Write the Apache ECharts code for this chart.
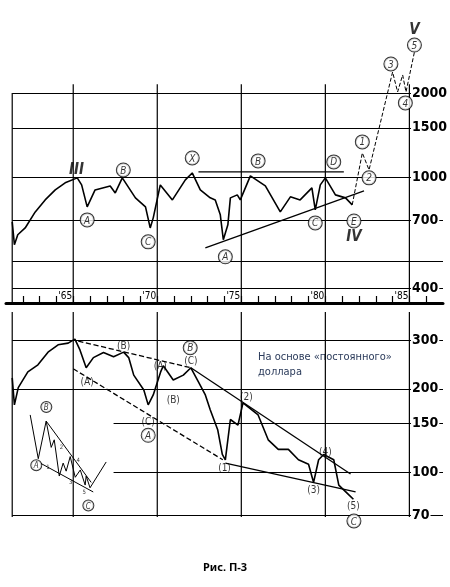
<!DOCTYPE html>
<html>
<head>
<meta charset="utf-8">
<script src="https://cdn.jsdelivr.net/npm/echarts@6/dist/echarts.min.js"></script>
<style>
  html, body { margin: 0; padding: 0; background: #fff; }
  #chart { width: 450px; height: 587px; }
</style>
</head>
<body>
<div id="chart"></div>
<script>
// ---- top panel: Dow Jones (nominal) ----
var topYears = [1961.37, 1961.5, 1961.7, 1962.14, 1962.74, 1963.33, 1963.93, 1964.52, 1965.24, 1965.5, 1965.83,
  1966.3, 1967.2, 1967.5, 1967.92, 1968.7, 1969.3, 1969.58, 1969.76, 1970.18, 1970.9, 1971.67, 1972.08,
  1972.56, 1973.15, 1973.45, 1973.75, 1973.93, 1974.2, 1974.35, 1974.76, 1974.94, 1975.54, 1976.43,
  1977.32, 1977.92, 1978.5, 1979.2, 1979.4, 1979.7, 1980.0, 1980.6, 1981.2, 1981.6];
var topValues = [690, 571, 620, 656, 749, 827, 898, 952, 992, 936, 781,
  898, 928, 876, 992, 841, 781, 656, 713, 936, 827, 976, 1033,
  898, 841, 827, 731, 595, 673, 841, 862, 827, 1008, 928,
  749, 848, 827, 913, 762, 936, 992, 862, 841, 794];
// projected wave V (dashed)
var projYears = [1981.6, 1982.2, 1982.6, 1984.0, 1984.3, 1984.6, 1984.8, 1985.3];
var projValues = [794, 1219, 1059, 2377, 2016, 2320, 2016, 2804];
// triangle boundaries
var triTop = [[1972.45, 1042], [1981.1, 1042]];
var triBottom = [[1972.86, 556], [1982.3, 891]];
var topTicks = [2000, 1500, 1000, 700, 400];
var topPlainLines = [500];
var topNoteX = [1965.2, 1967.98, 1965.83, 1969.46, 1972.08, 1976.0, 1974.05, 1979.4, 1980.5, 1981.7, 1981.7, 1982.2, 1982.6, 1983.9, 1984.76, 1985.3, 1985.3];
var topNoteY = [1059, 1059, 701, 585, 1169, 1141, 517, 684, 1132, 695, 610, 1335, 992, 2540, 1842, 2970, 3365];
var topNoteText = ['III', 'B', 'A', 'C', 'X', 'B', 'A', 'C', 'D', 'E', 'IV', '1', '2', '3', '4', '5', 'V'];

// ---- bottom panel: constant dollar ----
var botYears = [1961.37, 1961.5, 1961.73, 1962.0, 1962.3, 1962.9, 1963.5, 1964.1, 1964.7, 1965.1, 1965.4, 1965.77,
  1966.2, 1966.8, 1967.4, 1968.0, 1968.3, 1968.6, 1969.2, 1969.46, 1969.76, 1970.2, 1970.36, 1970.95,
  1971.55, 1972.0, 1972.44, 1972.86, 1973.15, 1973.6, 1973.87, 1974.05, 1974.35, 1974.8, 1975.1,
  1976.0, 1976.6, 1977.2, 1977.8, 1978.4, 1979.0, 1979.3, 1979.6, 1979.9, 1980.5, 1980.8, 1981.4, 1981.67];
var botValues = [219, 175, 202, 215, 230, 244, 271, 288, 292, 302, 276, 238,
  259, 270, 261, 271, 259, 224, 198, 175, 190, 230, 242, 215,
  224, 238, 212, 190, 168, 142, 116, 111, 155, 148, 178,
  161, 131, 121, 121, 111, 107, 92, 111, 116, 111, 90, 83, 80];
var botDashed = [[[1965.3, 297], [1972.0, 238]], [[1965.0, 236], [1973.9, 111]]];
var botSolid = [[[1972.0, 238], [1981.5, 98.6]], [[1974.05, 108], [1981.8, 85]]];
var botTicks = [300, 200, 150, 100, 70];
var botNoteX = [1968.0, 1965.83, 1971.96, 1972.0, 1970.18, 1970.95, 1969.46, 1969.46, 1975.3, 1974.0, 1979.3, 1980.0, 1981.67, 1981.7];
var botNoteY = [285, 210, 281, 250, 240, 182, 151, 136, 186, 103, 86, 118, 75.3, 66.8];
var botNoteText = ['(B)', '(A)', 'B', '(C)', '(A)', '(B)', '(C)', 'A', '(2)', '(1)', '(3)', '(4)', '(5)', 'C'];
// inset schematic
var insetYears = [1962.44, 1962.92, 1963.39, 1963.69, 1963.87, 1964.17, 1964.4, 1964.58, 1964.82, 1965.12, 1965.42, 1965.71, 1965.77, 1966.0, 1966.96];
var insetValues = [161, 112, 153, 123, 131, 97, 108, 101, 114, 96, 102, 90, 97, 88, 109];
var insetChannel = [[[1963.39, 153], [1966.07, 92]], [[1963.04, 108], [1966.19, 85]]];
var insetNoteX = [1963.4, 1962.8, 1965.9, 1963.5, 1964.3, 1964.85, 1965.3, 1965.65];
var insetNoteY = [172, 106, 76, 104, 123, 92, 110, 85];
var insetNoteText = ['B', 'A', 'C', '1', '2', '3', '4', '5'];

var vYears = [1965, 1970, 1975, 1980];
var xMin = 1961, xMax = 1987, xLeft = 1961.37;
var FONT = 'DejaVu Sans Condensed';

function pairs(xs, ys) { return xs.map(function (x, i) { return [x, ys[i]]; }); }
function segLine(seg, gi, dashed, w) {
  return { type: 'line', xAxisIndex: gi, yAxisIndex: gi, data: seg, symbol: 'none', silent: true,
    lineStyle: { color: '#000', width: w || 1.3, type: dashed ? 'dashed' : 'solid' } };
}
function notes(xs, ys, texts, gi, size) {
  return { type: 'scatter', xAxisIndex: gi, yAxisIndex: gi, symbolSize: 0, silent: true, z: 10,
    data: xs.map(function (x, i) { return { value: [x, ys[i]], name: texts[i] }; }),
    label: { show: true, position: 'inside', formatter: function (p) {
        var t = p.name;
        if (/^(I|V|X)+$/.test(t) && t !== 'X') return '{r|' + t + '}';
        if (t.charAt(0) === '(' || (size && /^[0-9]$/.test(t))) return '{p|' + t + '}';
        return '{c|' + t + '}';
      },
      rich: {
        r: { fontFamily: FONT, fontSize: 15, fontWeight: 'bold', fontStyle: 'italic', color: '#000' },
        p: { fontFamily: FONT, fontSize: size ? 6 : 10, color: '#000' },
        c: { fontFamily: FONT, fontSize: size || 10, fontStyle: 'italic', color: '#000', backgroundColor: '#fff',
             borderColor: '#000', borderWidth: 1, borderRadius: 9, width: size ? 8 : 11, height: size ? 8 : 11, align: 'center', padding: [2, 1, 0, 1] }
      } } };
}
function tickLines(ticks, gi, startX) {
  return { type: 'line', xAxisIndex: gi, yAxisIndex: gi, data: [], silent: true,
    markLine: { symbol: 'none', silent: true, animation: false,
      lineStyle: { color: '#000', width: 1.2, type: 'solid' },
      label: { show: true, position: 'end', distance: -32, formatter: function (p) { return p.value; },
        fontFamily: FONT, fontWeight: 'bold', fontSize: 14, color: '#000', backgroundColor: '#fff', padding: [0, 1] },
      data: ticks.map(function (t, i) {
        return [{ coord: [startX[i], t] }, { coord: [xMax, t], value: t }];
      }) } };
}
function vLines(years, lo, hi, gi, w) {
  return years.map(function (y) { return segLine([[y, lo], [y, hi]], gi, false, w || 1.2); });
}

var chart = echarts.init(document.getElementById('chart'));
var series = [
  { type: 'line', data: pairs(topYears, topValues), symbol: 'none', lineStyle: { color: '#000', width: 1.6 } },
  segLine(pairs(projYears, projValues), 0, true, 1),
  segLine(triTop, 0), segLine(triBottom, 0),
  tickLines(topTicks, 0, topTicks.map(function () { return xLeft; })),
  { type: 'line', data: [], markLine: { symbol: 'none', silent: true, label: { show: false },
      lineStyle: { color: '#000', width: 1.2, type: 'solid' },
      data: topPlainLines.map(function (v) { return [{ coord: [xLeft, v] }, { coord: [xMax, v] }]; }) } },
  notes(topNoteX, topNoteY, topNoteText, 0),
  { type: 'line', xAxisIndex: 1, yAxisIndex: 1, data: pairs(botYears, botValues), symbol: 'none', lineStyle: { color: '#000', width: 1.6 } },
  segLine(botDashed[0], 1, true), segLine(botDashed[1], 1, true),
  segLine(botSolid[0], 1), segLine(botSolid[1], 1),
  tickLines(botTicks, 1, [xLeft, xLeft, 1967.4, 1967.4, xLeft]),
  notes(botNoteX, botNoteY, botNoteText, 1),
  segLine(pairs(insetYears, insetValues), 1, false, 1),
  segLine(insetChannel[0], 1, false, 1), segLine(insetChannel[1], 1, false, 1),
  notes(insetNoteX, insetNoteY, insetNoteText, 1, 8)
];
series = series
  .concat(vLines(vYears.concat([1985]), 353, 2150, 0))
  .concat(vLines([xLeft], 353, 2000, 0))
  .concat(vLines(vYears.concat([1985, xLeft]), 69, 378, 1));

chart.setOption({
  animation: false,
  grid: [
    { left: 6, right: 7, top: 25, bottom: 284 },
    { left: 6, right: 7, top: 312, bottom: 61 }
  ],
  xAxis: [
    { type: 'value', gridIndex: 0, min: xMin, max: xMax, interval: 1, splitLine: { show: false },
      axisLine: { show: true, onZero: false, lineStyle: { color: '#000', width: 3 } },
      axisTick: { show: true, inside: true, length: 7, lineStyle: { color: '#000', width: 1.2 } },
      axisLabel: { inside: true, margin: 2, showMinLabel: false, showMaxLabel: false,
        formatter: function (v) { return v % 5 === 0 ? "'" + String(v).slice(2) : ''; },
        fontFamily: FONT, fontSize: 10, color: '#000', align: 'right', padding: [0, 1, 0, 0] } },
    { type: 'value', gridIndex: 1, min: xMin, max: xMax, show: false }
  ],
  yAxis: [
    { type: 'log', gridIndex: 0, min: 353, max: 3505, show: false },
    { type: 'log', gridIndex: 1, min: 64.1, max: 378, show: false }
  ],
  graphic: [
    { type: 'text', left: 258, top: 350, style: { text: 'На основе «постоянного»\nдоллара', fontFamily: FONT, fontSize: 11, lineHeight: 15, fill: '#2a3a5a' } },
    { type: 'text', left: 'center', top: 562, style: { text: 'Рис. П-3', fontFamily: 'Noto Sans', fontWeight: 'bold', fontSize: 11, fill: '#000' } }
  ],
  series: series
});
</script>
</body>
</html>
